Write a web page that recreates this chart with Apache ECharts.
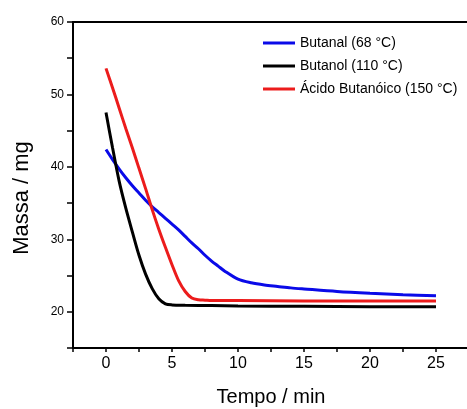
<!DOCTYPE html>
<html>
<head>
<meta charset="utf-8">
<script src="https://cdn.jsdelivr.net/npm/echarts@6/dist/echarts.min.js"></script>
<style>
html,body{margin:0;padding:0;background:#fff;}
#chart{width:467px;height:409px;}
</style>
</head>
<body>
<div id="chart"></div>
<script>
var seriesNames = ['Butanal (68 \u00B0C)', 'Butanol (110 \u00B0C)', '\u00C1cido Butan\u00F3ico (150 \u00B0C)'];

var timeButanal = [0, 0.5, 1, 1.5, 2, 2.5, 3, 3.5, 4, 4.5, 5, 5.5, 6, 6.5, 7, 7.5, 8, 8.5, 9, 10, 11, 12, 13, 14, 15, 17.5, 20, 22.5, 25];
var massButanal = [42.4, 41.0, 39.7, 38.5, 37.4, 36.4, 35.4, 34.5, 33.7, 32.9, 32.1, 31.3, 30.4, 29.5, 28.7, 27.8, 27.0, 26.3, 25.6, 24.5, 24.0, 23.7, 23.5, 23.3, 23.15, 22.8, 22.55, 22.35, 22.2];

var timeButanol = [0, 0.5, 1, 1.5, 2, 2.5, 3, 3.5, 4, 4.5, 5, 6, 8, 10, 15, 20, 25];
var massButanol = [47.5, 42.6, 38.0, 34.3, 31.0, 27.8, 25.2, 23.2, 21.8, 21.1, 20.95, 20.9, 20.85, 20.8, 20.75, 20.7, 20.7];

var timeAcido = [0, 0.5, 1, 1.5, 2, 2.5, 3, 3.5, 4, 4.5, 5, 5.5, 6, 6.5, 7, 7.5, 8, 10, 15, 20, 25];
var massAcido = [53.6, 50.9, 48.1, 45.3, 42.6, 39.8, 37.0, 34.1, 31.4, 28.9, 26.5, 24.3, 22.8, 21.9, 21.65, 21.6, 21.55, 21.55, 21.5, 21.5, 21.5];

var xTickLabels = [0, 5, 10, 15, 20, 25];
var yTickLabels = [20, 30, 40, 50, 60];

var colors = ['#0a0ae8', '#000000', '#ec1c1c'];

function pairs(xs, ys) { return xs.map(function (x, i) { return [x, ys[i]]; }); }

var chart = echarts.init(document.getElementById('chart'), null, {renderer: 'canvas'});
var axisFont = 'Liberation Sans, Arial, sans-serif';
var option = {
  backgroundColor: '#ffffff',
  animation: false,
  grid: {left: 73, top: 22, width: 396, height: 326, containLabel: false, outerBoundsMode: 'none'},
  legend: {
    orient: 'vertical',
    left: 263,
    top: 36,
    padding: 0,
    icon: 'rect',
    itemWidth: 32,
    itemHeight: 3,
    itemGap: 9,
    data: seriesNames,
    textStyle: {fontFamily: axisFont, fontSize: 14, color: '#000', lineHeight: 14}
  },
  xAxis: [{
    type: 'value',
    min: -2.5,
    max: 27.5,
    interval: 2.5,
    position: 'bottom',
    name: 'Tempo / min',
    nameLocation: 'middle',
    nameGap: 39,
    nameTextStyle: {fontFamily: axisFont, fontSize: 20, color: '#000'},
    axisLine: {show: true, onZero: false, lineStyle: {color: '#000', width: 2}},
    axisTick: {show: true, length: 4, lineStyle: {color: '#000', width: 1.5}},
    axisLabel: {
      fontFamily: axisFont,
      fontSize: 16, color: '#000', margin: 8,
      formatter: function (v) { return xTickLabels.indexOf(v) >= 0 ? String(v) : ''; }
    },
    splitLine: {show: false}
  }, {
    type: 'value',
    min: -2.5,
    max: 27.5,
    position: 'top',
    axisLine: {show: true, onZero: false, lineStyle: {color: '#000', width: 2}},
    axisTick: {show: false},
    axisLabel: {show: false},
    splitLine: {show: false}
  }],
  yAxis: {
    type: 'value',
    min: 15,
    max: 60,
    interval: 5,
    name: 'Massa / mg',
    nameLocation: 'middle',
    nameGap: 40,
    nameTextStyle: {fontFamily: axisFont, fontSize: 22, color: '#000', padding: [0, 26, 0, 0]},
    axisLine: {show: true, onZero: false, lineStyle: {color: '#000', width: 2}},
    axisTick: {show: true, length: 6, lineStyle: {color: '#000', width: 1.5}},
    axisLabel: {
      fontFamily: axisFont, fontSize: 12, color: '#000', margin: 9,
      formatter: function (v) { return yTickLabels.indexOf(v) >= 0 ? String(v) : ''; }
    },
    splitLine: {show: false}
  },
  series: [
    {name: seriesNames[0], type: 'line', xAxisIndex: 0, data: pairs(timeButanal, massButanal), smooth: 0.3, showSymbol: false, symbol: 'none', color: colors[0], lineStyle: {width: 3, color: colors[0]}},
    {name: seriesNames[1], type: 'line', xAxisIndex: 0, data: pairs(timeButanol, massButanol), smooth: 0.3, showSymbol: false, symbol: 'none', color: colors[1], lineStyle: {width: 3, color: colors[1]}},
    {name: seriesNames[2], type: 'line', xAxisIndex: 0, data: pairs(timeAcido, massAcido), smooth: 0.3, showSymbol: false, symbol: 'none', color: colors[2], lineStyle: {width: 3, color: colors[2]}}
  ]
};
chart.setOption(option);
</script>
</body>
</html>
